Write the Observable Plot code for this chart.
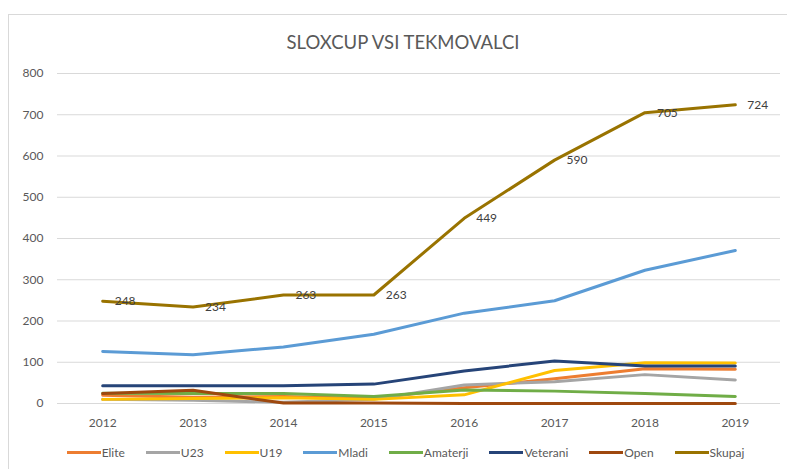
<!DOCTYPE html>
<html><head><meta charset="utf-8">
<script src="https://cdn.jsdelivr.net/npm/d3@7"></script>
<script src="https://cdn.jsdelivr.net/npm/@observablehq/plot@0.6"></script>
<style>
body{margin:0;background:#fff;font-family:Lato, "Open Sans", sans-serif;}
#wrap{position:relative;width:787px;height:469px;overflow:hidden;background:#fff;}
#frame{position:absolute;left:8px;top:14px;width:800px;height:480px;border:1px solid #d9d9d9;}
#title{position:absolute;top:31px;left:0;width:806px;text-align:center;font-size:18.5px;color:#595959;}
#chart{position:absolute;left:0;top:0;}
#legend{position:absolute;top:445px;left:0;width:811px;display:flex;justify-content:center;gap:21px;font-size:12px;color:#595959;}
.item{display:flex;align-items:center;}
.sw{display:inline-block;width:34px;height:3px;margin-right:1px;}
</style></head>
<body>
<div id="wrap">
  <div id="frame"></div>
  <div id="chart"></div>
  <div id="title">SLOXCUP VSI TEKMOVALCI</div>
  <div id="legend"></div>
</div>
<script>
const years = [2012, 2013, 2014, 2015, 2016, 2017, 2018, 2019];
const seriesNames = ["Elite", "U23", "U19", "Mladi", "Amaterji", "Veterani", "Open", "Skupaj"];
const seriesColors = ["#ED7D31", "#A5A5A5", "#FFC000", "#5B9BD5", "#70AD47", "#264478", "#9E480E", "#997300"];
const elite    = [20, 15, 17, 12, 38, 60, 84, 83];
const u23      = [10, 8, 3, 10, 45, 53, 70, 57];
const u19      = [10, 12, 14, 10, 21, 80, 99, 98];
const mladi    = [126, 118, 137, 168, 219, 249, 323, 371];
const amaterji = [25, 24, 24, 17, 33, 30, 24, 17];
const veterani = [43, 43, 43, 47, 79, 103, 91, 91];
const open     = [24, 32, 1, 1, 0, 0, 0, 0];
const skupaj   = [248, 234, 263, 263, 449, 590, 705, 724];
const yTicks = [0, 100, 200, 300, 400, 500, 600, 700, 800];

const seriesValues = [elite, u23, u19, mladi, amaterji, veterani, open, skupaj];
const data = [];
seriesNames.forEach((s, i) => seriesValues[i].forEach((v, j) => data.push({series: s, year: years[j], value: v})));
const skupajData = years.map((y, j) => ({year: y, value: skupaj[j]}));

const chart = Plot.plot({
  width: 787, height: 440,
  marginLeft: 57, marginRight: 7, marginTop: 73, marginBottom: 37,
  style: {fontFamily: "Lato, 'Open Sans', sans-serif", fontSize: "12px", color: "#595959", background: "transparent"},
  x: {type: "linear", domain: [2011.5, 2019.5]},
  y: {domain: [0, 800]},
  color: {domain: seriesNames, range: seriesColors},
  marks: [
    Plot.ruleY(yTicks, {stroke: "#d9d9d9", strokeWidth: 1}),
    Plot.axisX({ticks: years, tickFormat: d => String(d), tickSize: 0, tickPadding: 15, label: null, fill: "#595959"}),
    Plot.axisY({ticks: yTicks, tickSize: 0, tickPadding: 14, label: null, fill: "#595959"}),
    Plot.lineY(data, {x: "year", y: "value", z: "series", stroke: "series", strokeWidth: 3, strokeLinejoin: "round", strokeLinecap: "round"}),
    Plot.text(skupajData, {x: "year", y: "value", text: d => String(d.value), dx: 12, textAnchor: "start", fill: "#404040", fontSize: 12})
  ]
});
document.getElementById("chart").appendChild(chart);

const legend = document.getElementById("legend");
seriesNames.forEach((s, i) => {
  const it = document.createElement("div");
  it.className = "item";
  const sw = document.createElement("span");
  sw.className = "sw";
  sw.style.background = seriesColors[i];
  it.appendChild(sw);
  const t = document.createElement("span");
  t.textContent = s;
  it.appendChild(t);
  legend.appendChild(it);
});
</script>
</body></html>
